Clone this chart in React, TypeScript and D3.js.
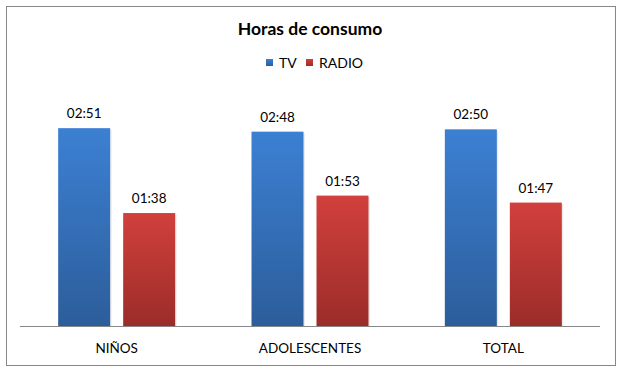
import React from 'react';
import * as d3 from 'd3';

// chart values (minutes)
const categories = ['NIÑOS', 'ADOLESCENTES', 'TOTAL'];
const seriesNames = ['TV', 'RADIO'];
const tvMinutes = [171, 168, 170];
const radioMinutes = [98, 113, 107];

const WIDTH = 623;
const HEIGHT = 374;
const FONT = 'Lato, "Open Sans", sans-serif';

const fmt = (m: number) => {
  const h = Math.floor(m / 60);
  const mm = m % 60;
  return String(h).padStart(2, '0') + ':' + String(mm).padStart(2, '0');
};

export default function App() {
  const margin = { left: 20, right: 23, top: 77, bottom: 47 };
  const baseY = HEIGHT - margin.bottom;

  const x = d3
    .scaleBand()
    .domain(categories)
    .range([margin.left, WIDTH - margin.right])
    .paddingInner(0)
    .paddingOuter(0);

  const y = d3.scaleLinear().domain([0, 215]).range([baseY, margin.top]);

  const barW = 52;
  const gap = 13;
  const series = [
    { name: seriesNames[0], values: tvMinutes, grad: 'gradTv' },
    { name: seriesNames[1], values: radioMinutes, grad: 'gradRadio' },
  ];

  return (
    <svg
      width={WIDTH}
      height={HEIGHT}
      style={{ position: 'absolute', left: 0, top: 0, background: '#fff' }}
    >
      <defs>
        <linearGradient id="gradTv" x1="0" y1="0" x2="0" y2="1">
          <stop offset="0%" stopColor="#3C80D3" />
          <stop offset="100%" stopColor="#2C5D9A" />
        </linearGradient>
        <linearGradient id="gradRadio" x1="0" y1="0" x2="0" y2="1">
          <stop offset="0%" stopColor="#D1403C" />
          <stop offset="100%" stopColor="#9B2C29" />
        </linearGradient>
      </defs>

      <rect x={6.5} y={6.5} width={609} height={359} fill="#fff" stroke="#878787" strokeWidth={1} />

      <text
        x={310}
        y={35}
        textAnchor="middle"
        fontFamily={FONT}
        fontWeight="bold"
        fontSize={17.5}
        fill="#000"
      >
        Horas de consumo
      </text>

      {/* legend */}
      <g fontFamily={FONT} fontSize={14} fill="#000">
        <rect x={266} y={59} width={7} height={7} fill="url(#gradTv)" />
        <text x={279} y={67.5}>{seriesNames[0]}</text>
        <rect x={306} y={59} width={7} height={7} fill="url(#gradRadio)" />
        <text x={319} y={67.5}>{seriesNames[1]}</text>
      </g>

      {categories.map((c, i) => {
        const cx = (x(c) as number) + x.bandwidth() / 2;
        const groupW = barW * 2 + gap;
        return (
          <g key={c}>
            {series.map((s, j) => {
              const bx = cx - groupW / 2 + j * (barW + gap);
              const by = y(s.values[i]);
              return (
                <g key={s.name}>
                  <rect
                    x={bx + 1.5}
                    y={by + 1.5}
                    width={barW}
                    height={baseY - by - 1.5}
                    fill="#000"
                    opacity={0.08}
                  />
                  <rect x={bx} y={by} width={barW} height={baseY - by} fill={`url(#${s.grad})`} />
                  <text
                    x={bx + barW / 2}
                    y={by - 10}
                    textAnchor="middle"
                    fontFamily={FONT}
                    fontSize={13.5}
                    fill="#000"
                  >
                    {fmt(s.values[i])}
                  </text>
                </g>
              );
            })}
            <text x={cx} y={353} textAnchor="middle" fontFamily={FONT} fontSize={13.5} fill="#000">
              {c}
            </text>
          </g>
        );
      })}

      <line x1={margin.left} x2={WIDTH - margin.right} y1={baseY - 0.5} y2={baseY - 0.5} stroke="#878787" />
    </svg>
  );
}
